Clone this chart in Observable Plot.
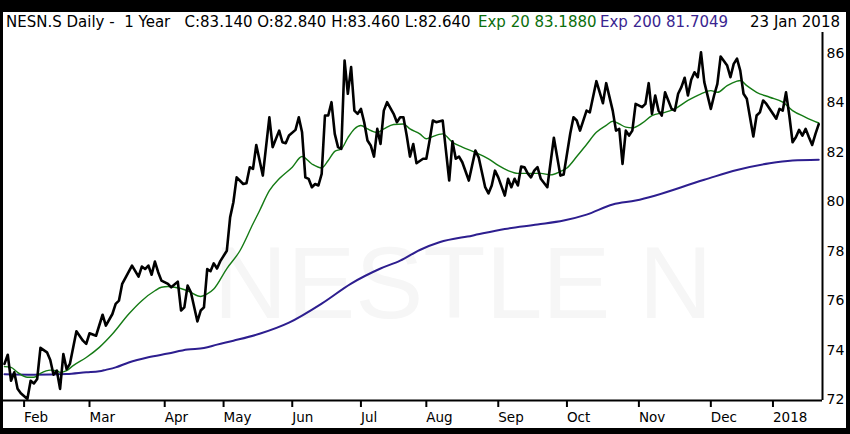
<!DOCTYPE html>
<html><head><meta charset="utf-8">
<script src="https://cdn.jsdelivr.net/npm/d3@7"></script>
<script src="https://cdn.jsdelivr.net/npm/@observablehq/plot@0.6"></script>
<style>
html,body{margin:0;padding:0;background:#000;width:850px;height:434px;overflow:hidden;}
#panel{position:absolute;left:3px;top:12px;width:843px;height:416px;background:#fff;overflow:hidden;}
#header{position:absolute;left:0;top:0;width:843px;height:20px;font-family:"DejaVu Sans",sans-serif;font-size:15px;line-height:20px;white-space:pre;}
#header span{position:absolute;top:0;}
#chart{position:absolute;left:0;top:20px;}
</style></head><body>
<div id="panel"><div id="header"></div><div id="chart"></div></div>
<script>
// ---- data (trading-day index, value) ----
const price = [[0,73.44],[1,73.81],[2,72.76],[3,73.10],[4,72.44],[5,72.25],[7,72.02],[8,72.76],[9,72.65],[10,72.83],[11,74.09],[13,73.91],[14,73.60],[15,73.00],[16,73.17],[17,72.43],[18,73.84],[19,73.23],[20,73.44],[22,74.76],[24,74.38],[25,74.25],[26,74.68],[28,74.58],[30,75.43],[31,74.99],[33,75.46],[34,75.87],[35,76.00],[36,76.68],[39,77.42],[41,76.97],[42,77.38],[43,77.28],[44,77.42],[45,77.05],[46,77.58],[47,77.15],[48,76.81],[50,76.68],[51,76.54],[53,76.77],[54,75.60],[55,75.73],[56,76.61],[57,76.34],[59,75.16],[60,75.60],[61,75.73],[62,77.28],[63,77.19],[64,77.51],[65,77.30],[66,77.60],[68,78.02],[69,79.37],[70,79.98],[71,80.99],[73,80.72],[74,80.75],[75,81.40],[76,81.33],[77,82.30],[79,81.06],[81,83.42],[82,82.21],[84,82.88],[85,82.41],[86,82.37],[87,82.68],[89,82.91],[90,83.42],[91,82.81],[92,80.99],[93,80.93],[94,80.59],[95,80.72],[96,80.66],[97,81.13],[98,83.49],[99,83.49],[100,84.03],[101,82.75],[102,82.21],[103,82.14],[104,85.72],[105,84.37],[106,85.45],[107,83.69],[108,83.56],[109,83.76],[110,83.22],[111,82.48],[112,82.28],[113,81.83],[114,82.95],[115,82.34],[116,83.69],[117,84.03],[119,83.56],[120,83.22],[121,83.42],[122,83.42],[123,82.68],[124,81.83],[125,82.34],[126,81.56],[128,81.74],[129,81.74],[130,82.48],[131,83.29],[132,83.22],[134,83.29],[135,82.07],[136,80.86],[137,82.45],[138,81.74],[139,81.83],[140,81.60],[142,80.86],[143,81.47],[144,82.07],[145,81.80],[147,80.59],[148,80.34],[149,80.66],[150,81.26],[151,80.99],[153,80.25],[154,80.93],[155,80.59],[156,80.93],[157,80.66],[158,81.43],[159,81.40],[160,81.15],[161,80.99],[162,81.26],[163,81.40],[164,80.93],[166,80.59],[168,82.59],[170,81.06],[171,81.10],[173,82.75],[174,83.42],[175,83.29],[176,82.88],[178,83.69],[179,83.62],[181,84.88],[183,83.99],[184,84.80],[186,83.69],[187,82.88],[188,82.95],[189,81.53],[190,82.88],[191,82.68],[192,82.88],[193,83.96],[195,83.83],[196,83.96],[197,84.80],[198,83.56],[199,84.30],[200,83.69],[201,83.49],[202,84.43],[204,83.76],[205,83.69],[206,84.37],[207,84.64],[208,85.02],[209,84.30],[210,84.94],[211,85.24],[212,85.04],[213,86.05],[214,84.84],[216,83.76],[217,84.30],[218,84.77],[219,85.88],[221,85.51],[222,85.04],[223,85.58],[224,85.79],[225,85.31],[226,84.37],[227,84.17],[229,82.64],[230,83.49],[231,83.62],[232,84.10],[233,83.96],[235,83.56],[236,83.36],[237,83.76],[238,83.69],[239,84.43],[240,83.49],[241,82.41],[242,82.61],[243,82.91],[244,82.68],[245,82.95],[246,82.61],[247,82.30],[248,82.75],[249,83.14]];

const ema20 = [[0,73.33],[2,73.30],[4,73.10],[7,72.90],[9,72.90],[11,73.06],[14,73.19],[16,73.17],[17,73.10],[19,73.17],[21,73.37],[25,73.70],[29,74.11],[33,74.65],[38,75.46],[42,76.00],[46,76.40],[48,76.54],[50,76.57],[52,76.54],[56,76.40],[60,76.17],[62,76.27],[64,76.47],[68,77.30],[72,78.02],[76,79.11],[78,79.64],[81,80.45],[84,80.93],[88,81.40],[91,81.83],[94,81.53],[97,81.37],[99,81.67],[101,82.04],[103,82.14],[105,82.59],[107,82.95],[109,83.09],[111,82.95],[114,82.81],[116,82.95],[119,83.13],[122,83.15],[124,82.95],[127,82.75],[129,82.55],[130,82.59],[134,82.75],[137,82.41],[140,82.21],[144,82.00],[148,81.74],[151,81.47],[154,81.26],[157,81.15],[161,81.15],[164,81.15],[167,81.09],[170,81.23],[172,81.37],[175,81.83],[178,82.32],[181,82.81],[184,83.09],[186,83.26],[188,83.15],[190,83.02],[192,82.99],[195,83.18],[198,83.49],[202,83.62],[205,83.76],[209,84.10],[213,84.37],[216,84.50],[218,84.43],[221,84.70],[224,84.88],[225,84.91],[227,84.70],[230,84.43],[234,84.23],[238,84.03],[241,83.69],[245,83.42],[249,83.188]];

const ema200 = [[0,73.02],[9,73.00],[19,73.03],[25,73.10],[29,73.14],[31,73.20],[34,73.30],[38,73.50],[44,73.71],[50,73.86],[56,74.02],[61,74.08],[65,74.22],[70,74.38],[78,74.66],[87,75.11],[97,75.88],[106,76.69],[115,77.30],[121,77.62],[127,78.05],[133,78.36],[143,78.63],[153,78.90],[163,79.08],[171,79.24],[178,79.48],[186,79.89],[193,80.05],[214,80.89],[224,81.29],[234,81.56],[241,81.67],[249,81.7049]];

const monthDays   = [6, 26, 49, 67, 88, 109, 129, 151, 172, 194, 216, 235];
const monthLabels = ["Feb","Mar","Apr","May","Jun","Jul","Aug","Sep","Oct","Nov","Dec","2018"];
const yTicks = [72, 74, 76, 78, 80, 82, 84, 86];

const headerMain = "NESN.S Daily -  1 Year   C:83.140 O:82.840 H:83.460 L:82.640";
const headerEma20 = "Exp 20 83.1880";
const headerEma200 = "Exp 200 81.7049";
const headerDate = "23 Jan 2018";
const watermark = "NESTLE N";

// ---- header ----
const hdr = document.getElementById("header");
function addSpan(text, color, css) {
  const s = document.createElement("span");
  s.textContent = text; s.style.color = color;
  Object.assign(s.style, css);
  hdr.appendChild(s);
}
addSpan(headerMain, "#000", {left: "3px"});
addSpan(headerEma20, "#0b6e0b", {left: "475px"});
addSpan(headerEma200, "#3a2590", {left: "597px"});
addSpan(headerDate, "#000", {right: "6px"});

// ---- chart ----
const xMin = -0.3, xMax = 250.15, yMin = 71.96, yMax = 86.85;
const labelOf = new Map(monthDays.map((d, i) => [d, monthLabels[i]]));

const chart = Plot.plot({
  width: 843, height: 396,
  marginLeft: 0, marginRight: 24, marginTop: 0, marginBottom: 28,
  style: {background: "transparent", fontFamily: "DejaVu Sans, sans-serif", color: "#000", overflow: "visible"},
  x: {domain: [xMin, xMax]},
  y: {domain: [yMin, yMax]},
  marks: [
    Plot.text([watermark], {text: d => d, frameAnchor: "middle", dx: 50, dy: 69, fontSize: 102, fill: "#f6f6f6", fontFamily: "Liberation Sans, sans-serif"}),
    Plot.line(ema200, {x: d => d[0], y: d => d[1], stroke: "#2d1e8f", strokeWidth: 2, curve: "monotone-x"}),
    Plot.line(ema20, {x: d => d[0], y: d => d[1], stroke: "#147a14", strokeWidth: 1.4, curve: "monotone-x"}),
    Plot.line(price, {x: d => d[0], y: d => d[1], stroke: "#000", strokeWidth: 2.6}),
    Plot.ruleY([yMin], {stroke: "#000", strokeWidth: 2}),
    Plot.ruleX([xMax], {stroke: "#000", strokeWidth: 2}),
    Plot.axisX(monthDays, {tickFormat: d => labelOf.get(d), tickSize: 7, tickPadding: 5, textAnchor: "start", fontSize: 13.5, strokeWidth: 2, label: null}),
    Plot.axisY(yTicks, {anchor: "right", tickSize: 0, tickPadding: 4, fontSize: 14, label: null})
  ]
});
document.getElementById("chart").appendChild(chart);
</script>
</body></html>
